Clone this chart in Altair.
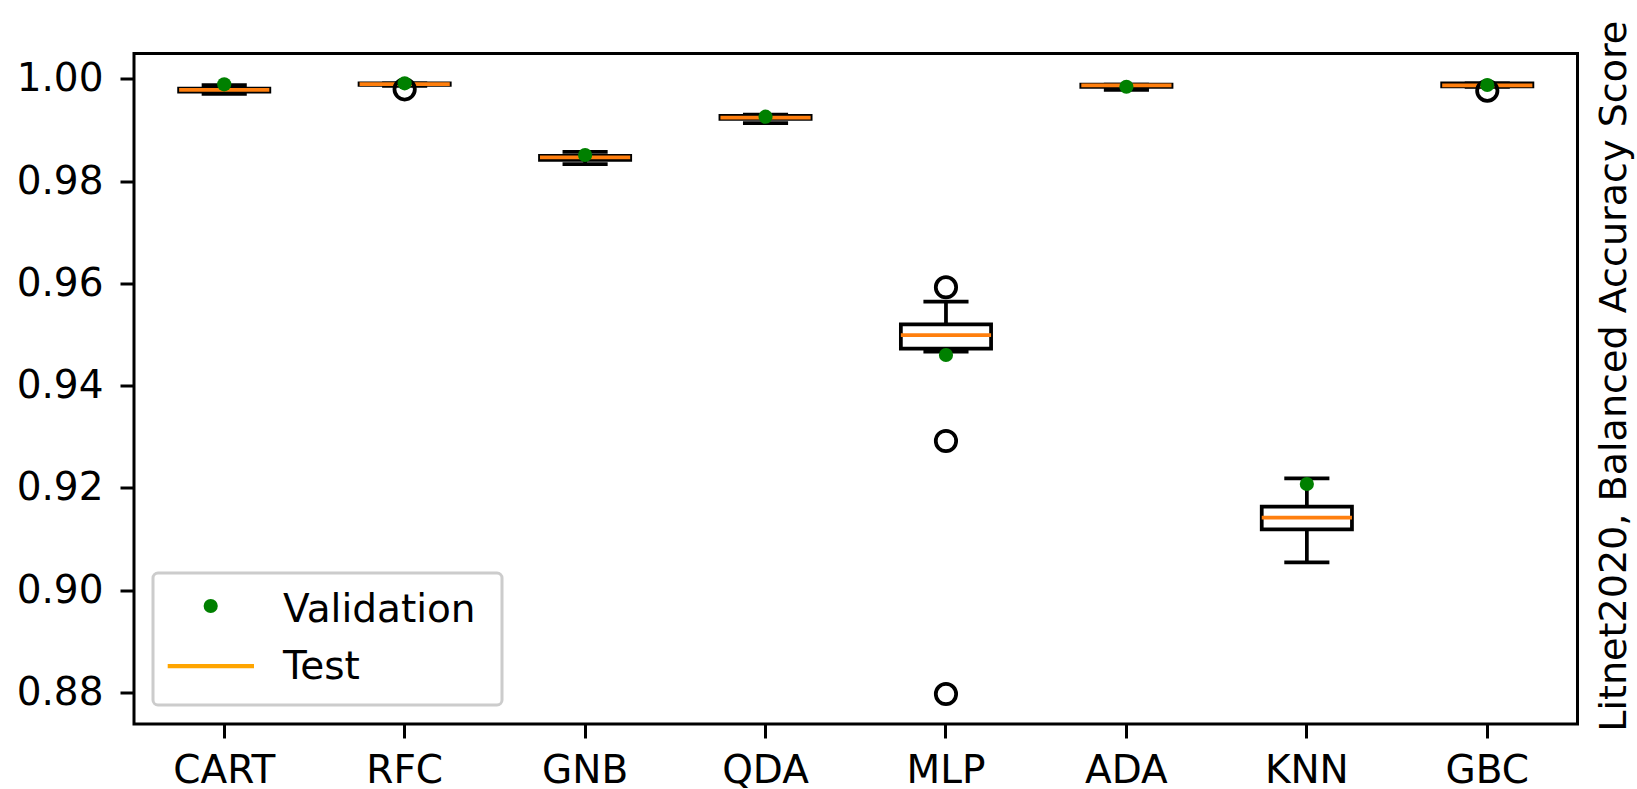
import altair as alt
import pandas as pd

models = ["CART", "RFC", "GNB", "QDA", "MLP", "ADA", "KNN", "GBC"]
q1 = [0.99755, 0.99885, 0.98419, 0.99221, 0.94722, 0.99847, 0.91188, 0.99855]
q3 = [0.99814, 0.99912, 0.98495, 0.99278, 0.95196, 0.99890, 0.91630, 0.99912]
median = [0.99785, 0.99902, 0.98468, 0.99243, 0.94990, 0.99877, 0.91415, 0.99877]
whisk_lo = [0.99710, 0.99867, 0.98335, 0.99137, 0.94663, 0.99789, 0.90542, 0.99845]
whisk_hi = [0.99879, 0.99912, 0.98573, 0.99303, 0.95642, 0.99890, 0.92186, 0.99912]
validation = [0.99896, 0.99916, 0.98513, 0.99262, 0.94599, 0.99849, 0.92074, 0.99883]

outlier_model = ["RFC", "MLP", "MLP", "MLP", "GBC"]
outlier_value = [0.99798, 0.95924, 0.92916, 0.87965, 0.99771]

legend_labels = ["Validation", "Test"]
y_ticks = [0.88, 0.90, 0.92, 0.94, 0.96, 0.98, 1.00]
y_title = "Litnet2020, Balanced Accuracy Score"

FONT = "DejaVu Sans"
FS = 39
LW = 3.75
W, H = 1443.5, 670.5
BAND = W / len(models)

box_df = pd.DataFrame({"model": models, "q1": q1, "q3": q3, "median": median,
                       "lo": whisk_lo, "hi": whisk_hi, "val": validation})
out_df = pd.DataFrame({"model": outlier_model, "value": outlier_value})
one = pd.DataFrame({"a": [0]})

x_enc = alt.X("model:N", sort=models, title=None,
              scale=alt.Scale(paddingInner=0, paddingOuter=0),
              axis=alt.Axis(labelAngle=0, labelFontSize=FS, labelFont=FONT, labelColor="black",
                            tickSize=14, tickWidth=3, tickColor="black", labelPadding=13,
                            domain=False, grid=False))
y_scale = alt.Scale(domain=[0.87378, 1.00499], nice=False, zero=False)
y_axis = alt.Axis(values=y_ticks, format=".2f", labelFontSize=FS, labelFont=FONT, labelColor="black",
                  tickSize=14, tickWidth=3, tickColor="black", labelPadding=17,
                  domain=False, grid=False,
                  title=y_title, titleFont=FONT, titleFontSize=38.1, titleFontWeight="normal",
                  titleColor="black", titleAngle=270, titleBaseline="alphabetic",
                  titleAlign="center", titleX=W + 47.5, titleY=H / 2 - 13)

base = alt.Chart(box_df)

whisk_low = base.mark_rule(color="black", strokeWidth=LW, opacity=1).encode(
    x=x_enc, y=alt.Y("lo:Q", scale=y_scale, axis=y_axis), y2="q1:Q")
whisk_high = base.mark_rule(color="black", strokeWidth=LW, opacity=1).encode(
    x=x_enc, y=alt.Y("q3:Q", scale=y_scale), y2="hi:Q")
cap_lo = base.mark_tick(color="black", size=BAND / 4, thickness=LW, orient="horizontal",
                        opacity=1).encode(x=x_enc, y=alt.Y("lo:Q", scale=y_scale))
cap_hi = base.mark_tick(color="black", size=BAND / 4, thickness=LW, orient="horizontal",
                        opacity=1).encode(x=x_enc, y=alt.Y("hi:Q", scale=y_scale))
box = base.mark_bar(size=BAND / 2, fill="white", stroke="black", strokeWidth=LW, opacity=1).encode(
    x=x_enc, y=alt.Y("q1:Q", scale=y_scale), y2="q3:Q")
med = base.mark_tick(color="#ff7f0e", size=BAND / 2, thickness=LW, orient="horizontal",
                     opacity=1).encode(x=x_enc, y=alt.Y("median:Q", scale=y_scale))
outl = alt.Chart(out_df).mark_point(shape="circle", filled=False, stroke="black",
                                    strokeWidth=LW, size=415, opacity=1).encode(
    x=x_enc, y=alt.Y("value:Q", scale=y_scale))
val = base.mark_circle(color="green", size=201, opacity=1).encode(
    x=x_enc, y=alt.Y("val:Q", scale=y_scale))

# legend (drawn inside the plot, lower left)
leg_frame = alt.Chart(one).mark_rect(fill="white", fillOpacity=0.8, stroke="#cccccc",
                                     strokeWidth=3, cornerRadius=5).encode(
    x=alt.value(19), x2=alt.value(368), y=alt.value(519.5), y2=alt.value(651.5))
leg_dot = alt.Chart(one).mark_circle(color="green", size=201, opacity=1).encode(
    x=alt.value(76.7), y=alt.value(552.5))
leg_line = alt.Chart(one).mark_rule(color="orange", strokeWidth=LW + 0.5).encode(
    x=alt.value(33.7), x2=alt.value(120), y=alt.value(612.5))
leg_t1 = alt.Chart(one).mark_text(align="left", baseline="alphabetic", font=FONT,
                                  fontSize=FS, color="black").encode(
    x=alt.value(149), y=alt.value(568), text=alt.value(legend_labels[0]))
leg_t2 = alt.Chart(one).mark_text(align="left", baseline="alphabetic", font=FONT,
                                  fontSize=FS, color="black").encode(
    x=alt.value(149), y=alt.value(625.5), text=alt.value(legend_labels[1]))

chart = alt.layer(whisk_low, whisk_high, cap_lo, cap_hi, box, med, outl, val,
                  leg_frame, leg_dot, leg_line, leg_t1, leg_t2).properties(
    width=W, height=H,
    autosize=alt.AutoSizeParams(type="none"),
    padding={"left": 134, "top": 53.5, "right": 59.5, "bottom": 65},
    background="white",
).configure_view(stroke="black", strokeWidth=3)

chart.save("out.html", embed_options={"renderer": "svg", "actions": False})
